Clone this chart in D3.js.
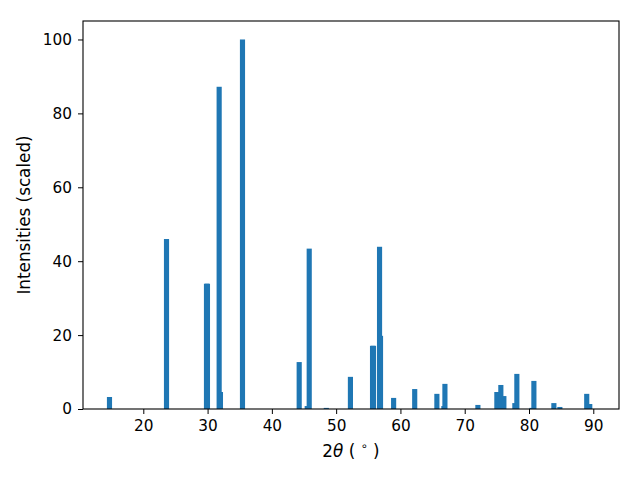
<!DOCTYPE html>
<html>
<head>
<meta charset="utf-8">
<script src="https://cdn.jsdelivr.net/npm/d3@7"></script>
<style>
  body { margin: 0; background: #fff; }
  text { font-family: 'DejaVu Sans', sans-serif; }
</style>
</head>
<body>
<div id="canvas"></div>
<script>
// peak positions (2 theta, degrees) and scaled intensities
const twoTheta = [14.74, 23.61, 29.83, 29.98, 32.0, 31.8, 35.43, 44.25, 45.5, 45.81, 48.47,
  52.22, 55.66, 55.81, 56.9, 56.75, 58.94, 62.22, 65.67, 66.76, 66.92, 72.05,
  75.0, 75.62, 76.09, 77.8, 78.11, 80.45, 80.76, 83.87, 84.8, 88.98, 89.45]
const intensity = [3.25, 46.0, 33.9, 33.9, 4.6, 87.2, 100, 12.7, 0.8, 43.4, 0.3,
  8.7, 17.1, 17.1, 19.8, 43.9, 3.0, 5.4, 4.1, 0.8, 6.8, 1.1,
  4.6, 6.5, 3.5, 1.6, 9.5, 0.3, 7.6, 1.6, 0.55, 4.1, 1.35]
const xTicks = [20, 30, 40, 50, 60, 70, 80, 90]
const yTicks = [0, 20, 40, 60, 80, 100]

const width = 640
const height = 480
const margin = { top: 21, left: 83, bottom: 71, right: 21 }
const iwidth = width - margin.left - margin.right
const iheight = height - margin.top - margin.bottom
const barWidth = 0.8

const data = twoTheta.map((t, i) => ({ t: t, v: intensity[i] }))

const svg = d3.select('#canvas').append('svg')
  .attr('width', width)
  .attr('height', height)

const g = svg.append('g')
  .attr('transform', `translate(${margin.left},${margin.top})`)

const x = d3.scaleLinear().domain([10.62, 94.0]).range([0, iwidth])
const y = d3.scaleLinear().domain([0, 105]).range([iheight, 0])

// bars
g.selectAll('rect.bar')
  .data(data)
  .enter()
  .append('rect')
  .attr('class', 'bar')
  .attr('x', (d) => x(d.t - barWidth / 2))
  .attr('width', (d) => x(d.t + barWidth / 2) - x(d.t - barWidth / 2))
  .attr('y', (d) => y(d.v))
  .attr('height', (d) => iheight - y(d.v))
  .style('fill', '#1f77b4')

// axes
const xAxis = g.append('g')
  .attr('transform', `translate(0,${iheight})`)
  .call(d3.axisBottom(x).tickValues(xTicks).tickSize(5).tickPadding(6))
const yAxis = g.append('g')
  .call(d3.axisLeft(y).tickValues(yTicks).tickSize(5).tickPadding(6))

;[xAxis, yAxis].forEach((a) => {
  a.select('.domain').remove()
  a.selectAll('.tick line').attr('stroke', '#000').attr('stroke-width', 1)
  a.selectAll('.tick text')
    .style('font-family', 'DejaVu Sans')
    .style('font-size', '15.3px')
    .attr('fill', '#000')
})
xAxis.selectAll('.tick text').attr('dy', '0.74em')

// frame
g.append('rect')
  .attr('width', iwidth)
  .attr('height', iheight)
  .attr('fill', 'none')
  .attr('stroke', '#000')
  .attr('stroke-width', 1.1)

// x label
const xl = svg.append('text')
  .attr('x', margin.left + iwidth / 2)
  .attr('y', 457)
  .attr('text-anchor', 'middle')
  .style('font-size', '16.8px')
xl.append('tspan').text('2')
xl.append('tspan').style('font-style', 'italic').text('θ')
xl.append('tspan').text(' ( ')
xl.append('tspan').attr('dy', -7).style('font-size', '11.5px').text('∘')
xl.append('tspan').attr('dy', 7).text(' )')

// y label
svg.append('text')
  .attr('transform', `translate(29.5,${margin.top + iheight / 2}) rotate(-90)`)
  .attr('text-anchor', 'middle')
  .style('font-size', '16.8px')
  .text('Intensities (scaled)')
</script>
</body>
</html>
